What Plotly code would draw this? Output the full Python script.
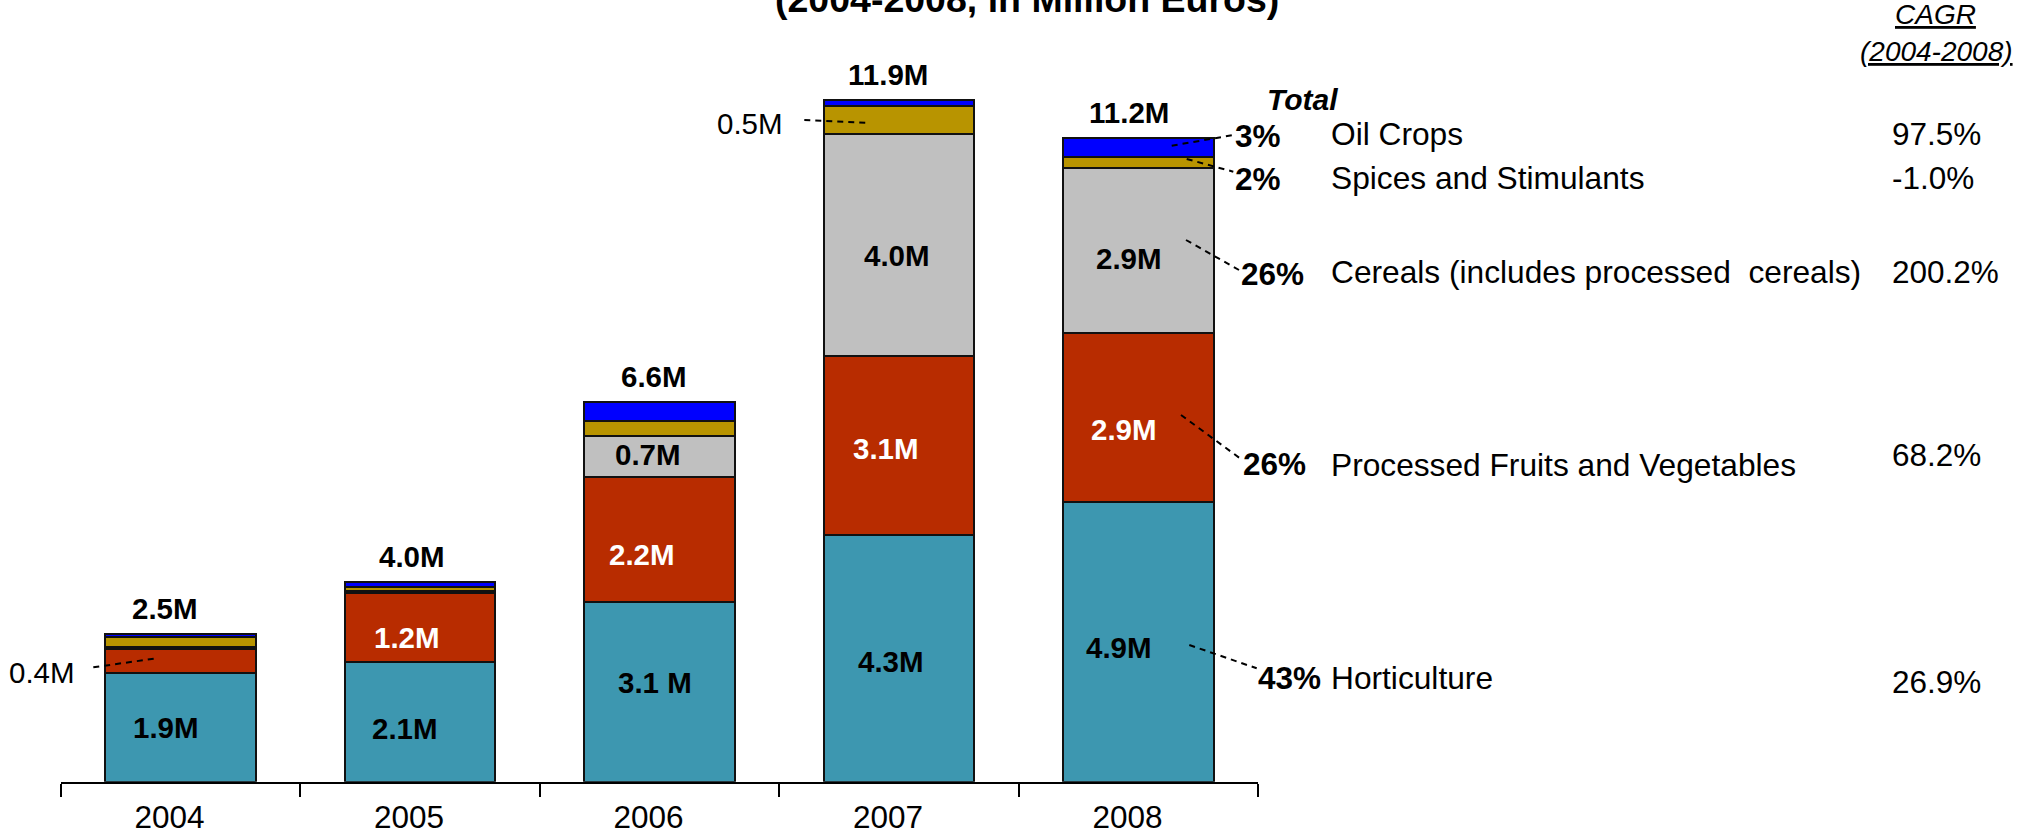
import plotly.graph_objects as go

# ---------------- data (million euros) ----------------
years = ["2004", "2005", "2006", "2007", "2008"]
horticulture = [1.90, 2.09, 3.13, 4.30, 4.88]
processed_fv = [0.41, 1.19, 2.17, 3.11, 2.93]
cereals = [0.04, 0.05, 0.72, 3.88, 2.88]
spices = [0.17, 0.06, 0.27, 0.49, 0.19]
oil_crops = [0.05, 0.09, 0.32, 0.10, 0.33]

total_labels = ["2.5M", "4.0M", "6.6M", "11.9M", "11.2M"]
hort_labels = ["1.9M", "2.1M", "3.1 M", "4.3M", "4.9M"]
pfv_labels = ["", "1.2M", "2.2M", "3.1M", "2.9M"]
cereal_labels = ["", "", "0.7M", "4.0M", "2.9M"]

row_names = ["Oil Crops", "Spices and Stimulants",
             "Cereals (includes processed\u00a0 cereals)",
             "Processed Fruits and Vegetables", "Horticulture"]
share_2008 = ["3%", "2%", "26%", "26%", "43%"]
cagr = ["97.5%", "-1.0%", "200.2%", "68.2%", "26.9%"]

# ---------------- layout geometry / styles ----------------
W, H = 2031, 833
X0, CAT_W, N = 60.7, 239.5, len(years)
X1 = X0 + CAT_W * N
Y_BASE, PX_PER_M = 781.7, 57.4
FONT = "Liberation Sans, Arial, Helvetica, sans-serif"

COL_HORT = "#3d97b0"
COL_PFV = "#b82c00"
COL_CER = "#c0c0c0"
COL_SPI = "#b89400"
COL_OIL = "#0000ff"

# label nudges in pixels (x right, y down), per segment label
hort_dx = [-14, -15, -4, -8, -19]
hort_dy = [0, 7, -9, 3, 6]
pfv_dx = [0, -13, -17, -13, -14]
pfv_dy = [0, 10, 15, 3, 12]
cer_dx = [0, 0, -11, -2, -9]
cer_dy = [0, 0, -2, 10, 8]
tot_dx = [-15, -8, -5, -11, -9]


def px_x(px):
    return px / W


def px_y(py):
    return 1 - py / H


def data_x(px):
    return (px - X0) / CAT_W - 0.5


def data_y(py):
    return (Y_BASE - py) / PX_PER_M


fig = go.Figure()
series = [
    ("Horticulture", horticulture, COL_HORT),
    ("Processed Fruits and Vegetables", processed_fv, COL_PFV),
    ("Cereals", cereals, COL_CER),
    ("Spices and Stimulants", spices, COL_SPI),
    ("Oil Crops", oil_crops, COL_OIL),
]
for name, vals, col in series:
    fig.add_trace(go.Bar(
        x=years, y=vals, name=name,
        marker=dict(color=col, line=dict(color="#111111", width=2)),
        hoverinfo="skip",
    ))

annotations = []

# labels inside the segments (x given as category index)
bases = [0.0] * N
inner = [(horticulture, hort_labels, "black", hort_dx, hort_dy),
         (processed_fv, pfv_labels, "white", pfv_dx, pfv_dy),
         (cereals, cereal_labels, "black", cer_dx, cer_dy)]
for vals, labels, fcol, dxs, dys in inner:
    for i in range(N):
        if labels[i]:
            annotations.append(dict(
                x=i, y=bases[i] + vals[i] / 2, xref="x", yref="y",
                xanchor="center", yanchor="middle",
                text="<b>%s</b>" % labels[i], showarrow=False,
                font=dict(family=FONT, size=29.5, color=fcol),
                xshift=dxs[i], yshift=-dys[i]))
    bases = [b + v for b, v in zip(bases, vals)]

totals = [h + p + c + s + o for h, p, c, s, o in
          zip(horticulture, processed_fv, cereals, spices, oil_crops)]
for i in range(N):
    annotations.append(dict(
        x=i, y=totals[i], xref="x", yref="y",
        xanchor="center", yanchor="bottom",
        text="<b>%s</b>" % total_labels[i], showarrow=False,
        font=dict(family=FONT, size=29.5, color="black"),
        xshift=tot_dx[i], yshift=7))

# small-segment callouts
annotations.append(dict(x=px_x(77), y=px_y(672), xref="paper", yref="paper",
                        xanchor="right", yanchor="middle", text="0.4M",
                        showarrow=False, font=dict(family=FONT, size=29.5, color="black")))
annotations.append(dict(x=px_x(785), y=px_y(123.5), xref="paper", yref="paper",
                        xanchor="right", yanchor="middle", text="0.5M",
                        showarrow=False, font=dict(family=FONT, size=29.5, color="black")))

# right-hand table
name_y = [134, 178, 272, 464.5, 677.5]
pct_x = [1233, 1233, 1239, 1241, 1256]
pct_y = [136, 179, 274, 464, 677.5]
cagr_y = [134, 178, 272, 455.5, 681.7]
for i in range(len(row_names)):
    annotations.append(dict(x=px_x(pct_x[i]), y=px_y(pct_y[i]), xref="paper", yref="paper",
                            xanchor="left", yanchor="middle",
                            text="<b>%s</b>" % share_2008[i], showarrow=False,
                            font=dict(family=FONT, size=31.5, color="black")))
    annotations.append(dict(x=px_x(1328.5), y=px_y(name_y[i]), xref="paper", yref="paper",
                            xanchor="left", yanchor="middle",
                            text=row_names[i], showarrow=False,
                            font=dict(family=FONT, size=31.7, color="black")))
    annotations.append(dict(x=px_x(1890), y=px_y(cagr_y[i]), xref="paper", yref="paper",
                            xanchor="left", yanchor="middle",
                            text=cagr[i], showarrow=False,
                            font=dict(family=FONT, size=31.5, color="black")))

annotations.append(dict(x=px_x(1265), y=px_y(100), xref="paper", yref="paper",
                        xanchor="left", yanchor="middle", text="<b><i>Total</i></b>",
                        showarrow=False, font=dict(family=FONT, size=30, color="black")))
annotations.append(dict(x=px_x(1935), y=px_y(15), xref="paper", yref="paper",
                        xanchor="center", yanchor="middle", text="<i>CAGR</i>",
                        showarrow=False,
                        font=dict(family=FONT, size=28, color="black", lineposition="under")))
annotations.append(dict(x=px_x(1936), y=px_y(52), xref="paper", yref="paper",
                        xanchor="center", yanchor="middle", text="<i>(2004-2008)</i>",
                        showarrow=False,
                        font=dict(family=FONT, size=28, color="black", lineposition="under")))

# clipped title at the very top
annotations.append(dict(x=px_x(1027), y=px_y(-1), xref="paper", yref="paper",
                        xanchor="center", yanchor="middle",
                        text="<b>(2004-2008, in Million Euros)</b>", showarrow=False,
                        font=dict(family=FONT, size=37.5, color="black")))

# dashed leader lines (pixel geometry -> axis units)
leaders = [
    ((93.3, 667.3), (156.7, 658.3)),
    ((804.3, 120.0), (866.7, 122.7)),
    ((1171.7, 145.7), (1233.3, 135.0)),
    ((1186.7, 159.0), (1233.3, 171.7)),
    ((1186.0, 240.0), (1239.0, 270.0)),
    ((1181.0, 415.0), (1240.0, 458.3)),
    ((1189.3, 645.0), (1256.7, 668.3)),
]
shapes = []
for (ax, ay), (bx, by) in leaders:
    shapes.append(dict(type="line", xref="x", yref="y",
                       x0=data_x(ax), y0=data_y(ay), x1=data_x(bx), y1=data_y(by),
                       line=dict(color="black", width=2, dash="6px,5px")))

fig.update_layout(
    width=W, height=H, autosize=False,
    margin=dict(l=0, r=0, t=0, b=0, pad=0),
    paper_bgcolor="white", plot_bgcolor="white",
    barmode="stack", bargap=1 - 150.3 / CAT_W,
    showlegend=False,
    font=dict(family=FONT, color="black"),
    annotations=annotations, shapes=shapes,
    xaxis=dict(domain=[X0 / W, X1 / W], type="category",
               range=[-0.5, N - 0.5], automargin=False,
               showline=True, linecolor="black", linewidth=2,
               ticks="outside", tickson="boundaries", ticklen=13,
               tickwidth=2, tickcolor="black", showgrid=False,
               ticklabelshift=-11, ticklabelstandoff=6,
               tickfont=dict(family=FONT, size=31.5, color="black"),
               fixedrange=True),
    yaxis=dict(domain=[(H - Y_BASE) / H, 1], range=[0, Y_BASE / PX_PER_M],
               visible=False, showgrid=False, zeroline=False,
               automargin=False, fixedrange=True),
)

fig.write_html("out.html", config={"displayModeBar": False},
               post_script="document.body.style.margin='0';document.body.style.overflow='hidden';")
